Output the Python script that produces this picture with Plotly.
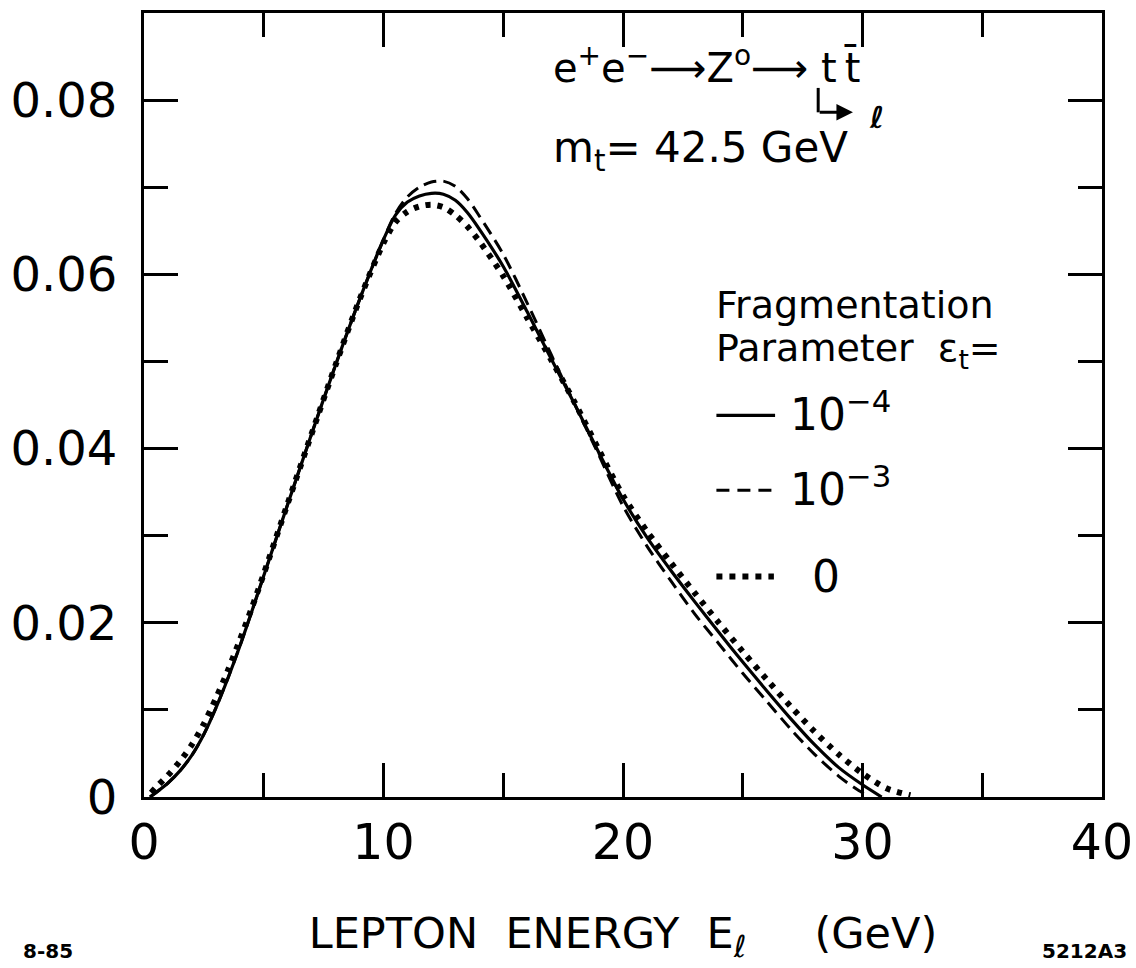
import plotly.graph_objects as go

# ---------------- data ----------------
E_solid = [0.25, 0.5, 1, 1.5, 2, 2.5, 3, 3.5, 4, 4.5, 5, 6, 7, 8, 9, 10, 10.5, 11, 11.5, 12, 12.5,
           13, 13.5, 14, 15, 16, 17, 18, 19, 20, 21, 22, 23, 24, 25, 26, 27, 28, 29, 30, 30.8]
Y_solid = [0, 0.0005, 0.0016, 0.0030, 0.0048, 0.0072, 0.0102, 0.0136, 0.0173, 0.0213, 0.0254,
           0.0336, 0.0417, 0.0496, 0.0571, 0.0640, 0.0668, 0.0683, 0.0690, 0.0693, 0.0692, 0.0685,
           0.0671, 0.0652, 0.0609, 0.0557, 0.0503, 0.0450, 0.0395, 0.0342, 0.0298, 0.0260, 0.0224,
           0.0189, 0.0155, 0.0122, 0.0090, 0.0060, 0.0034, 0.0014, 0.0]

E_dash = [0.25, 0.5, 1, 1.5, 2, 2.5, 3, 3.5, 4, 4.5, 5, 6, 7, 8, 9, 10, 10.5, 11, 11.5, 12, 12.5,
          13, 13.5, 14, 15, 16, 17, 18, 19, 20, 21, 22, 23, 24, 25, 26, 27, 28, 29, 29.7, 30.3]
Y_dash = [0, 0.0005, 0.0016, 0.0030, 0.0048, 0.0072, 0.0102, 0.0136, 0.0173, 0.0213, 0.0254,
          0.0336, 0.0417, 0.0496, 0.0571, 0.0640, 0.0670, 0.0689, 0.0700, 0.0706, 0.0707, 0.0701,
          0.0687, 0.0667, 0.0623, 0.0567, 0.0508, 0.0450, 0.0392, 0.0334, 0.0288, 0.0248, 0.0210,
          0.0176, 0.0142, 0.0110, 0.0078, 0.0049, 0.0024, 0.0010, 0.0]

E_dot = [0.3, 0.5, 1, 1.5, 2, 2.5, 3, 3.5, 4, 4.5, 5, 6, 7, 8, 9, 10, 10.5, 11, 11.5, 12, 12.5,
         13, 13.5, 14, 15, 16, 17, 18, 19, 20, 21, 22, 23, 24, 25, 26, 27, 28, 29, 30, 31, 32]
Y_dot = [0.0005, 0.0011, 0.0025, 0.0041, 0.0060, 0.0084, 0.0113, 0.0145, 0.0180, 0.0217, 0.0256,
         0.0337, 0.0417, 0.0496, 0.0571, 0.0636, 0.0660, 0.0672, 0.0678, 0.0680, 0.0677, 0.0668,
         0.0655, 0.0638, 0.0598, 0.0550, 0.0502, 0.0452, 0.0398, 0.0346, 0.0305, 0.0269, 0.0234,
         0.0200, 0.0167, 0.0135, 0.0104, 0.0075, 0.0049, 0.0027, 0.0010, 0.0002]

x_tickvals = [0, 10, 20, 30, 40]
x_ticktext = ["0", "10", "20", "30", "40"]
y_tickvals = [0, 0.02, 0.04, 0.06, 0.08]
y_ticktext = ["0", "0.02", "0.04", "0.06", "0.08"]

legend_labels = ["10<sup>\u2212</sup><sup>4</sup>", "10<sup>\u2212</sup><sup>3</sup>", "0"]

FONT = "DejaVu Sans"
BLACK = "#000000"

fig = go.Figure()
fig.add_trace(go.Scatter(x=E_dash, y=Y_dash, mode="lines", name="10^-3",
                         line=dict(color=BLACK, width=3, dash="13px,7px", shape="spline", smoothing=0.8)))
fig.add_trace(go.Scatter(x=E_solid, y=Y_solid, mode="lines", name="10^-4",
                         line=dict(color=BLACK, width=3.2, shape="spline", smoothing=0.8)))
fig.add_trace(go.Scatter(x=E_dot, y=Y_dot, mode="lines", name="0",
                         line=dict(color=BLACK, width=6, dash="5px,7px", shape="spline", smoothing=0.8)))

axis_common = dict(showline=True, linewidth=3, linecolor=BLACK, mirror="ticks",
                   ticks="inside", tickwidth=2.5, tickcolor=BLACK, showgrid=False, zeroline=False,
                   automargin=False)

fig.update_xaxes(range=[0, 40], tickvals=x_tickvals, ticktext=x_ticktext, ticklen=34,
                 minor=dict(dtick=5, ticks="inside", ticklen=24, tickwidth=2.5, tickcolor=BLACK, showgrid=False),
                 ticklabelstandoff=0,
                 tickfont=dict(family=FONT, size=49, color=BLACK),
                 title=dict(text="LEPTON  ENERGY  E<sub><i>\u2113</i></sub>\u00a0\u00a0\u00a0\u00a0\u00a0(GeV)",
                            font=dict(family=FONT, size=43, color=BLACK), standoff=49),
                 **axis_common)
fig.update_yaxes(range=[0, 0.09], tickvals=y_tickvals, ticktext=y_ticktext, ticklen=34,
                 minor=dict(dtick=0.01, ticks="inside", ticklen=24, tickwidth=2.5, tickcolor=BLACK, showgrid=False),
                 ticklabelstandoff=14,
                 tickfont=dict(family=FONT, size=48, color=BLACK),
                 **axis_common)

ann = []
def txt(x, y, text, size, xanchor="left", xref="x", yref="y"):
    ann.append(dict(x=x, y=y, xref=xref, yref=yref, text=text, showarrow=False,
                    xanchor=xanchor, yanchor="middle",
                    font=dict(family=FONT, size=size, color=BLACK)))

txt(17.0, 0.0840, "e<sup>+</sup>e<sup>\u2212</sup>\u27f6Z<sup>o</sup>\u27f6 t\u2009t\u0304", 40)
txt(17.0, 0.0742, "m<sub>t</sub>= 42.5 GeV", 42)
txt(23.8, 0.0565, "Fragmentation", 38)
txt(23.8, 0.0512, "Parameter  \u03b5<sub>t</sub>=", 38)
txt(26.9, 0.0443, legend_labels[0], 44)
txt(26.9, 0.0356, legend_labels[1], 44)
txt(27.8, 0.0253, legend_labels[2], 44)
txt(30.2, 0.0780, "<b><i>\u2113</i></b>", 30)
txt(-0.128, -0.197, "<b>8-85</b>", 20, xref="paper", yref="paper")
txt(1.028, -0.197, "<b>5212A3</b>", 20, xanchor="right", xref="paper", yref="paper")

# hooked arrow from the t-quark to the lepton
ann.append(dict(x=29.6, y=0.0786, ax=28.15, ay=0.0786, xref="x", yref="y", axref="x", ayref="y",
                text="", showarrow=True, arrowhead=2, arrowsize=1.1, arrowwidth=3, arrowcolor=BLACK))

fig.update_layout(annotations=ann)

shapes = [
    dict(type="line", xref="x", yref="y", x0=28.15, x1=28.15, y0=0.0814, y1=0.0786,
         line=dict(color=BLACK, width=3)),
    dict(type="line", xref="x", yref="y", x0=23.9, x1=26.35, y0=0.0438, y1=0.0438,
         line=dict(color=BLACK, width=3.2)),
    dict(type="line", xref="x", yref="y", x0=23.9, x1=26.35, y0=0.0352, y1=0.0352,
         line=dict(color=BLACK, width=3, dash="13px,8px")),
    dict(type="line", xref="x", yref="y", x0=23.9, x1=26.3, y0=0.0253, y1=0.0253,
         line=dict(color=BLACK, width=6, dash="6px,7px")),
]
fig.update_layout(shapes=shapes)

fig.update_layout(width=1136, height=968, margin=dict(l=144, r=34, t=13, b=171),
                  plot_bgcolor="white", paper_bgcolor="white", showlegend=False,
                  font=dict(family=FONT, color=BLACK))

fig.write_html("out.html")
